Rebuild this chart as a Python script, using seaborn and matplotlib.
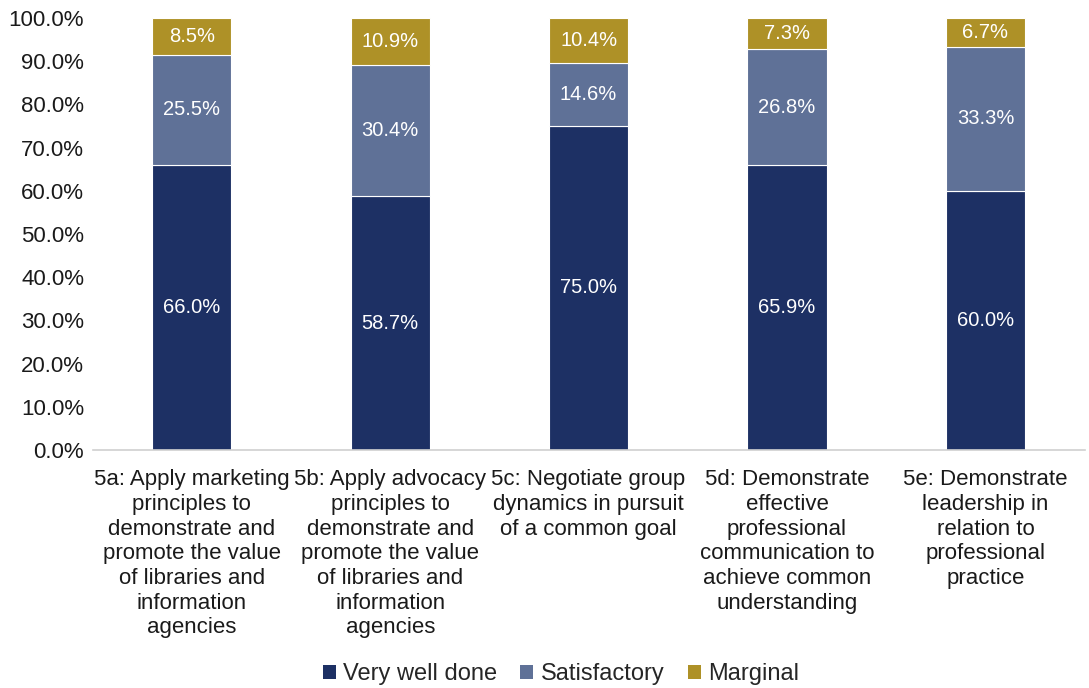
import matplotlib
matplotlib.use("Agg")
import matplotlib.pyplot as plt
import seaborn as sns
import numpy as np
from matplotlib.patches import Patch

categories = [
    "5a: Apply marketing\nprinciples to\ndemonstrate and\npromote the value\nof libraries and\ninformation\nagencies",
    "5b: Apply advocacy\nprinciples to\ndemonstrate and\npromote the value\nof libraries and\ninformation\nagencies",
    "5c: Negotiate group\ndynamics in pursuit\nof a common goal",
    "5d: Demonstrate\neffective\nprofessional\ncommunication to\nachieve common\nunderstanding",
    "5e: Demonstrate\nleadership in\nrelation to\nprofessional\npractice",
]
very_well_done = [66.0, 58.7, 75.0, 65.9, 60.0]
satisfactory = [25.5, 30.4, 14.6, 26.8, 33.3]
marginal = [8.5, 10.9, 10.4, 7.3, 6.7]
series_names = ["Very well done", "Satisfactory", "Marginal"]
colors = ["#1D3064", "#5F7197", "#AE9127"]

sns.set_theme(style="white")
plt.rcParams["font.family"] = ["Liberation Sans", "DejaVu Sans"]

fig = plt.figure(figsize=(10.89, 6.88), dpi=100)
ax = fig.add_axes([0.085, 0.346, 0.911, 0.628])

bottom = np.zeros(len(categories))
for name, vals, c in zip(series_names, [very_well_done, satisfactory, marginal], colors):
    sns.barplot(x=categories, y=vals, bottom=bottom, color=c, width=0.4,
                edgecolor="white", linewidth=0.8, ax=ax, order=categories,
                saturation=1)
    cont = ax.containers[-1]
    for rect, v, b in zip(cont, vals, bottom):
        ax.text(rect.get_x() + rect.get_width() / 2, b + v / 2, f"{v:.1f}%",
                ha="center", va="center", color="white", fontsize=14.5)
    bottom = bottom + np.array(vals)

ax.set_ylim(0, 100)
ax.set_xlim(-0.5, len(categories) - 0.5)
ax.set_yticks(np.arange(0, 101, 10))
ax.set_yticklabels([f"{t:.1f}%" for t in np.arange(0, 101, 10)], fontsize=16, color="#1a1a1a")
ax.tick_params(axis="x", labelsize=16, length=0, pad=14, labelcolor="#1a1a1a")
ax.tick_params(axis="y", length=0, pad=6)
for lab in ax.get_xticklabels():
    lab.set_linespacing(1.23)
for s in ["top", "right", "left"]:
    ax.spines[s].set_visible(False)
ax.spines["bottom"].set_color("#d0d0d0")
ax.spines["bottom"].set_linewidth(1.2)
ax.set_xlabel("")
ax.set_ylabel("")

handles = [Patch(facecolor=c, edgecolor="none") for c in colors]
fig.legend(handles, series_names, loc="center", bbox_to_anchor=(0.515, 0.02),
           ncol=3, frameon=False, fontsize=17, handlelength=0.55, handleheight=0.55,
           handletextpad=0.3, columnspacing=1.0)

fig.savefig("out.png", dpi=100)
